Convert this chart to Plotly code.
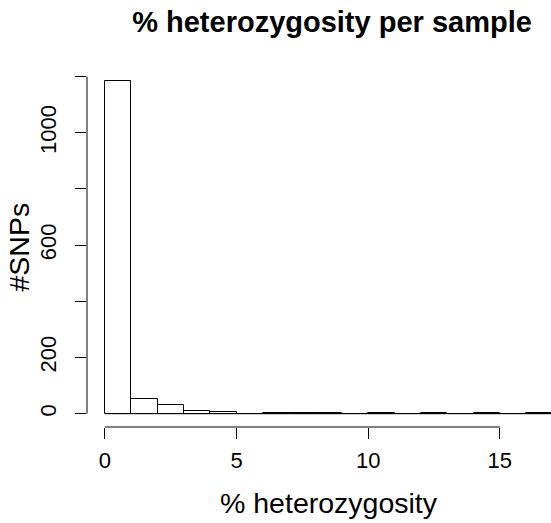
import plotly.graph_objects as go

# Histogram data (bins of width 1 on % heterozygosity)
bin_lefts = [0, 1, 2, 3, 4, 5, 6, 7, 8, 9, 10, 11, 12, 13, 14, 15, 16]
bin_width = 1
counts = [1183, 51, 31, 11, 5, 0, 3, 3, 4, 0, 1, 0, 1, 0, 1, 0, 1]

x_tick_vals = [0, 5, 10, 15]
x_tick_text = ["0", "5", "10", "15"]
y_tick_vals = [0, 200, 400, 600, 800, 1000, 1200]
y_tick_text = ["0", "200", "", "600", "", "1000", ""]

title_text = "% heterozygosity per sample"
x_title = "% heterozygosity"
y_title = "#SNPs"

FONT = "Liberation Sans, Arial, Helvetica, sans-serif"

centers = [b + bin_width / 2 for b in bin_lefts]
edges = bin_lefts + [bin_lefts[-1] + bin_width]

max_count = max(counts)
x_lo, x_hi = edges[0], edges[-1]
x_ext = 0.04 * (x_hi - x_lo)

fig = go.Figure()
fig.add_trace(go.Bar(
    x=centers, y=counts, width=bin_width,
    marker=dict(color="white", line=dict(color="black", width=1)),
    showlegend=False, hoverinfo="x+y",
))
# baseline of the histogram rectangles (visible for empty bins)
fig.add_trace(go.Scatter(
    x=[edges[0], edges[-1]], y=[0, 0], mode="lines",
    line=dict(color="black", width=1), showlegend=False, hoverinfo="skip",
))

W, H = 551, 523
ml, mr, mt, mb = 87, 0, 68, 96
plot_w = W - ml - mr
px_per_unit = 26.33
x_range = [x_lo - x_ext, x_lo - x_ext + plot_w / px_per_unit]

fig.update_layout(
    width=W, height=H,
    margin=dict(l=ml, r=mr, t=mt, b=mb, pad=0),
    plot_bgcolor="white", paper_bgcolor="white",
    font=dict(family=FONT, color="black"),
    bargap=0,
    title=dict(text="<b>" + title_text + "</b>", font=dict(size=29, family=FONT, color="black"),
               x=332 / W, xref="container", xanchor="center",
               y=1 - 22 / H, yref="container", yanchor="middle"),
    xaxis=dict(range=x_range, showgrid=False, zeroline=False, showline=False,
               ticks="outside", ticklen=11, tickwidth=1, tickcolor="black",
               tickvals=x_tick_vals, ticktext=x_tick_text,
               tickfont=dict(size=22, family=FONT, color="black"),
               ticklabelstandoff=3, fixedrange=True),
    yaxis=dict(range=[-0.04 * max_count, 1.04 * max_count], showgrid=False, zeroline=False,
               showline=False, ticks="outside", ticklen=11, tickwidth=1, tickcolor="black",
               tickvals=y_tick_vals, ticktext=y_tick_text, tickangle=-90,
               tickfont=dict(size=22, family=FONT, color="black"),
               ticklabelstandoff=10, fixedrange=True),
)

# axis lines spanning only the tick range (R style)
fig.add_shape(type="line", xref="x", yref="paper", x0=x_tick_vals[0], x1=x_tick_vals[-1],
              y0=0, y1=0, line=dict(color="black", width=1))
fig.add_shape(type="line", xref="paper", yref="y", x0=0, x1=0,
              y0=y_tick_vals[0], y1=y_tick_vals[-1], line=dict(color="black", width=1))

plot_h = H - mt - mb
fig.add_annotation(text=x_title, xref="paper", yref="paper",
                   x=(329 - ml) / plot_w, y=-(503 - (H - mb)) / plot_h,
                   xanchor="center", yanchor="middle", showarrow=False,
                   font=dict(size=28.5, family=FONT, color="black"))
fig.add_annotation(text=y_title, xref="paper", yref="paper",
                   x=-(ml - 18) / plot_w, y=0.5, textangle=-90,
                   xanchor="center", yanchor="middle", showarrow=False,
                   font=dict(size=28.5, family=FONT, color="black"))

fig.write_html("out.html")
